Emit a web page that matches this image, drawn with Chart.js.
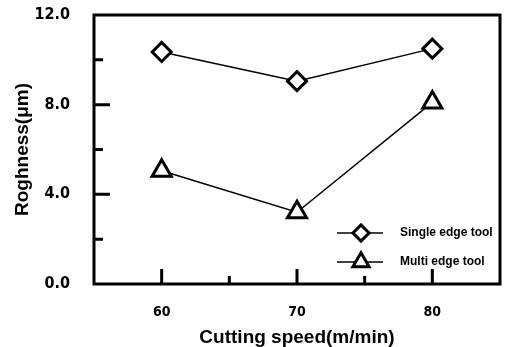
<!DOCTYPE html>
<html>
<head>
  <title>Roughness vs cutting speed</title>
  <script src="https://cdn.jsdelivr.net/npm/chart.js"></script>
  <style>
    html, body { margin: 0; padding: 0; background: #ffffff; }
    #wrap { position: relative; width: 506px; height: 347px; }
  </style>
</head>
<body>
  <div id="wrap"><canvas id="roughChart"></canvas></div>
  <script>
// data
const speeds = [60, 70, 80];
const singleEdge = [10.35, 9.05, 10.5];
const multiEdge = [5.05, 3.2, 8.1];
const seriesNames = ['Single edge tool', 'Multi edge tool'];
const yLabels = [0, 4, 8, 12];
const xLabels = [60, 70, 80];
const yMinor = [2, 6, 10];
const xMinor = [65, 75];

const toPoints = (vals) => speeds.map((s, i) => ({ x: s, y: vals[i] }));
const narrow = '"Liberation Sans Narrow", "DejaVu Sans Condensed", "Liberation Sans", Arial';

// inward ticks, frame and the small legend box
const framePlugin = {
  id: 'frame',
  afterDraw(chart) {
    const ctx = chart.ctx;
    const a = chart.chartArea;
    const xs = chart.scales.x, ys = chart.scales.y;
    ctx.save();
    ctx.strokeStyle = '#000';
    ctx.lineWidth = 3;
    ctx.strokeRect(a.left, a.top, a.right - a.left, a.bottom - a.top);

    ctx.beginPath();
    yLabels.filter(v => v > 0 && v < 12).forEach(v => {
      const y = ys.getPixelForValue(v);
      ctx.moveTo(a.left, y); ctx.lineTo(a.left + 16, y);
    });
    yMinor.forEach(v => {
      const y = ys.getPixelForValue(v);
      ctx.moveTo(a.left, y); ctx.lineTo(a.left + 9, y);
    });
    xLabels.forEach(v => {
      const x = xs.getPixelForValue(v);
      ctx.moveTo(x, a.bottom); ctx.lineTo(x, a.bottom - 15);
    });
    xMinor.forEach(v => {
      const x = xs.getPixelForValue(v);
      ctx.moveTo(x, a.bottom); ctx.lineTo(x, a.bottom - 8);
    });
    ctx.stroke();

    // legend
    const rows = [233, 262];
    chart.data.datasets.forEach((ds, i) => {
      const y = rows[i];
      ctx.lineWidth = 1.5;
      ctx.beginPath();
      ctx.moveTo(337, y); ctx.lineTo(383, y);
      ctx.stroke();
      ctx.fillStyle = '#fff';
      ctx.lineWidth = ds.pointBorderWidth;
      Chart.helpers.drawPoint(ctx, {
        pointStyle: ds.pointStyle, radius: ds.pointRadius * 0.85,
        borderWidth: ds.pointBorderWidth, rotation: 0
      }, 361, y);
      ctx.fillStyle = '#000';
      ctx.font = 'bold 12px "Liberation Sans", Arial, sans-serif';
      ctx.textBaseline = 'middle';
      ctx.fillText(seriesNames[i], 400, y);
    });
    ctx.restore();
  }
};

const noPad = (s) => { s.paddingTop = 0; s.paddingBottom = 0; s.paddingLeft = 0; s.paddingRight = 0; };

const ctx = document.getElementById('roughChart').getContext('2d');
const chart = new Chart(ctx, {
  type: 'line',
  data: {
    datasets: [{
      label: seriesNames[0],
      data: toPoints(singleEdge),
      borderColor: '#000',
      backgroundColor: '#fff',
      borderWidth: 1.5,
      pointStyle: 'rectRot',
      pointRadius: 9.5,
      pointBorderWidth: 3,
      pointBackgroundColor: '#fff',
      pointBorderColor: '#000',
      tension: 0
    }, {
      label: seriesNames[1],
      data: toPoints(multiEdge),
      borderColor: '#000',
      backgroundColor: '#fff',
      borderWidth: 1.5,
      pointStyle: 'triangle',
      pointRadius: 11,
      pointBorderWidth: 3,
      pointBackgroundColor: '#fff',
      pointBorderColor: '#000',
      tension: 0
    }]
  },
  options: {
    responsive: true,
    maintainAspectRatio: false,
    animation: false,
    layout: { autoPadding: false, padding: { top: 15, right: 6, left: 0, bottom: 0 } },
    plugins: { legend: { display: false }, tooltip: { enabled: false } },
    scales: {
      x: {
        type: 'linear',
        min: 55, max: 85,
        afterFit: (s) => { s.height = 63; noPad(s); },
        afterBuildTicks: (s) => { s.ticks = xLabels.map(v => ({ value: v })); },
        grid: { display: false, drawTicks: false },
        border: { display: false },
        ticks: {
          color: '#000',
          padding: 20,
          font: { family: narrow, weight: 'bold', size: 14 }
        },
        title: {
          display: true,
          text: 'Cutting speed(m/min)',
          color: '#000',
          padding: 0,
          font: { family: '"Liberation Sans", Arial', weight: 'bold', size: 19, lineHeight: 1 }
        }
      },
      y: {
        min: 0, max: 12,
        afterFit: (s) => { s.width = 94; noPad(s); },
        afterBuildTicks: (s) => { s.ticks = yLabels.map(v => ({ value: v })); },
        grid: { display: false, drawTicks: false },
        border: { display: false },
        ticks: {
          color: '#000',
          padding: 24,
          callback: (v) => Number(v).toFixed(1),
          font: { family: narrow, weight: 'bold', size: 16 }
        },
        title: {
          display: true,
          text: 'Roghness(\u03bcm)',
          color: '#000',
          padding: { top: 11, bottom: 0 },
          font: { family: '"Liberation Sans", Arial', weight: 'bold', size: 19, lineHeight: 1.2 }
        }
      }
    }
  },
  plugins: [framePlugin]
});
  </script>
</body>
</html>
